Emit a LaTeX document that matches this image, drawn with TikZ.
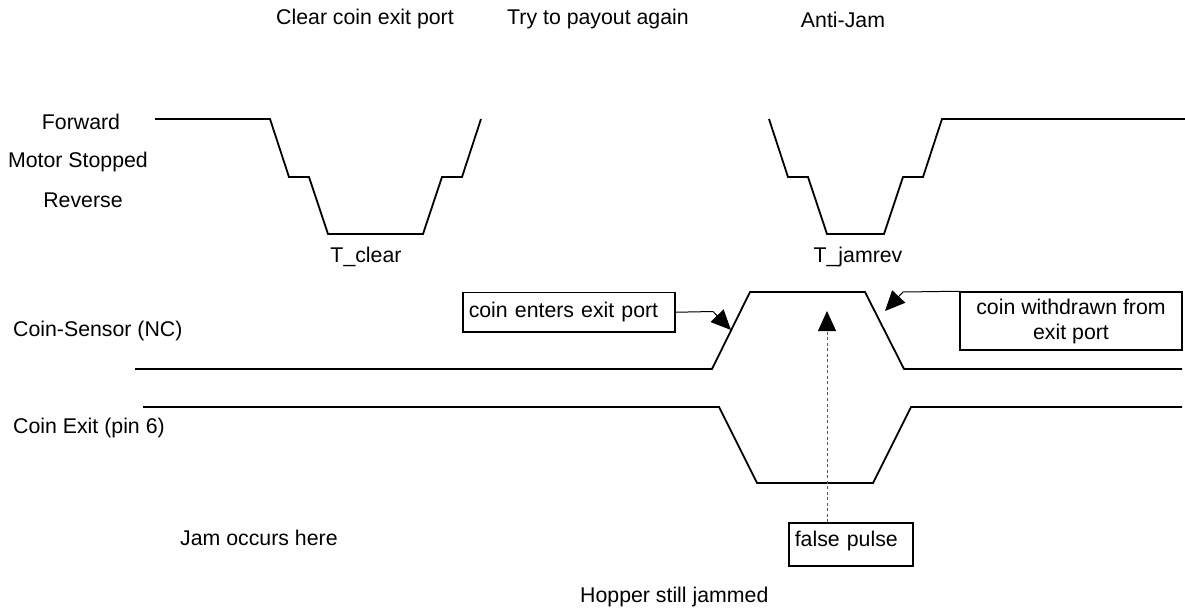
\documentclass[tikz,border=0pt]{standalone}
\usepackage{fontspec}
\setmainfont{Liberation Sans}
\usetikzlibrary{arrows.meta}
\begin{document}
\begin{tikzpicture}[x=1bp,y=-1bp,
  txt/.style={font=\fontsize{21.3bp}{25bp}\selectfont},
  wave/.style={line width=1.8bp, line join=miter},
  lbl/.style={txt, inner sep=0pt, anchor=base west},
  clbl/.style={txt, inner sep=0pt, anchor=base},
  box/.style={txt, draw, line width=1.5bp, inner xsep=6bp, inner ysep=0pt},
  ptr/.style={line width=1bp, -{Triangle[length=20bp,width=18bp]}},
  dptr/.style={line width=0.9bp, draw=black!65, dash pattern=on 3bp off 2.5bp, -{Triangle[length=20bp,width=18bp,color=black]}}
]
\useasboundingbox (0,0) rectangle (1185,612);

% titles
\node[clbl] (tclear) at (365,25) {Clear coin exit port};
\node[clbl] (ttry) at (598,25) {Try to payout again};
\node[clbl] (tanti) at (843,28) {Anti-Jam};

% motor labels
\node[clbl] (lfwd) at (81,130) {Forward};
\node[clbl] (lstop) at (78,168) {Motor Stopped};
\node[clbl] (lrev) at (83,208) {Reverse};
\node[clbl] (lTc) at (366,263) {T\_clear};
\node[clbl] (lTj) at (858,263) {T\_jamrev};

% signal labels
\node[lbl] (lsens) at (13,337) {Coin-Sensor (NC)};
\node[lbl] (lexit) at (13,433) {Coin Exit (pin 6)};
\node[lbl] (ljam) at (180,545) {Jam occurs here};
\node[lbl] (lhop) at (580,602) {Hopper still jammed};

% motor waveform
\draw[wave] (155,119) -- (270,119) -- (289,177) -- (309,177) -- (328,234) -- (423,234) -- (442,177) -- (462,177) -- (481,119);
\draw[wave] (769,119) -- (788,177) -- (808,177) -- (827,234) -- (884,234) -- (903,177) -- (923,177) -- (942,119) -- (1185,119);

% coin sensor
\draw[wave] (135,369) -- (712,369) -- (750,292) -- (865,292) -- (904,369) -- (1182,369);

% coin exit
\draw[wave] (143,407) -- (719,407) -- (757,483) -- (873,483) -- (911,407) -- (1182,407);

% boxes
\node[box, anchor=north west, text width=200bp, align=left, minimum height=39bp,
      text height=15bp, text depth=5bp] (b1) at (462,292) {coin enters exit port};
\node[box, minimum width=222bp, minimum height=58bp, align=center] (b2) at (1071,321) {coin withdrawn from\\exit port};
\node[box, anchor=north west, text width=112bp, align=left, minimum height=43bp,
      text height=15bp, text depth=11bp] (b3) at (788,522) {false pulse};

% pointers
\coordinate (k1) at (713,311.5);
\coordinate (t1) at (731,330);
\draw[ptr] (b1.east) -- (k1) -- (t1);
\coordinate (k2) at (903,292);
\coordinate (t2) at (885,311);
\draw[ptr] (b2.north west) -- (k2) -- (t2);
\coordinate (t3) at (827,311);
\draw[dptr] (t3 |- b3.north) -- (t3);
\end{tikzpicture}
\end{document}
